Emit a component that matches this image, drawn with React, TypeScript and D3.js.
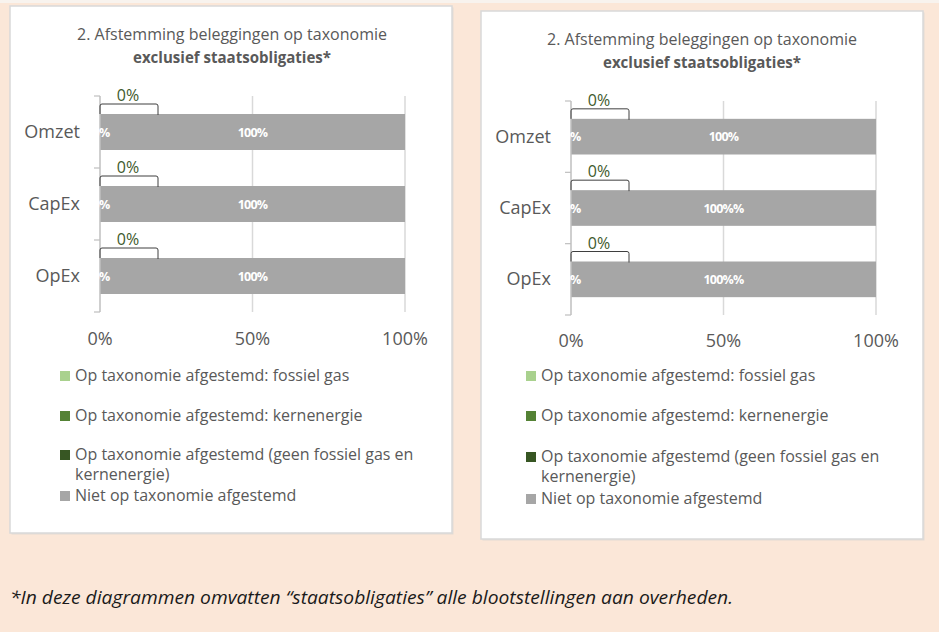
import React from "react";
import * as d3 from "d3";

const W = 939;
const H = 632;

const categories = ["Omzet", "CapEx", "OpEx"];
const seriesNames = [
  "Op taxonomie afgestemd: fossiel gas",
  "Op taxonomie afgestemd: kernenergie",
  "Op taxonomie afgestemd (geen fossiel gas en kernenergie)",
  "Niet op taxonomie afgestemd",
];
const seriesColors = ["#A9D18E", "#548235", "#375623", "#A6A6A6"];
// values per category: [fossiel gas, kernenergie, geen, niet]
const leftValues = [
  [0, 0, 0, 100],
  [0, 0, 0, 100],
  [0, 0, 0, 100],
];
const rightValues = [
  [0, 0, 0, 100],
  [0, 0, 0, 100],
  [0, 0, 0, 100],
];
const leftBarLabels = ["100%", "100%", "100%"];
const rightBarLabels = ["100%", "100%%", "100%%"];
const calloutLabels = ["0%", "0%", "0%"];
const xTicks = [0, 50, 100];
const titleLine1 = "2. Afstemming beleggingen op taxonomie";
const titleLine2 = "exclusief staatsobligaties*";
const legendLines = [
  ["Op taxonomie afgestemd: fossiel gas"],
  ["Op taxonomie afgestemd: kernenergie"],
  ["Op taxonomie afgestemd (geen fossiel gas en", "kernenergie)"],
  ["Niet op taxonomie afgestemd"],
];
const footnote = "*In deze diagrammen omvatten \u201Cstaatsobligaties\u201D alle blootstellingen aan overheden.";

const FONT = "'Open Sans', Lato, sans-serif";
const TXT = "#595959";

type PanelProps = {
  box: { x: number; y: number; w: number; h: number };
  titleX: number;
  titleY: number;
  plot: { left: number; right: number; top: number; bottom: number };
  values: number[][];
  barLabels: string[];
  tickY: number;
  legend: { sx: number; tx: number; ys: number[] };
};

function Panel({ box, titleX, titleY, plot, values, barLabels, tickY, legend }: PanelProps) {
  const x = d3.scaleLinear().domain([0, 100]).range([plot.left, plot.right]);
  const y = d3.scaleBand<string>().domain(categories).range([plot.top, plot.bottom]).paddingInner(0.5).paddingOuter(0.25);
  const stacked = values.map((row) => {
    let acc = 0;
    return row.map((v) => {
      const s = acc;
      acc += v;
      return [s, acc];
    });
  });
  const step = y.step();
  const boundaries = d3.range(categories.length + 1).map((i) => plot.top + i * step);
  return (
    <g>
      <rect x={box.x + 1.5} y={box.y + 1.5} width={box.w} height={box.h} fill="#E4DCD4" />
      <rect x={box.x} y={box.y} width={box.w} height={box.h} fill="#FFFFFF" stroke="#D9D9D9" strokeWidth={1.5} />
      <text x={titleX} y={titleY} textAnchor="middle" fontFamily={FONT} fontSize={15.5} fill={TXT} textLength={310} lengthAdjust="spacingAndGlyphs">
        {titleLine1}
      </text>
      <text x={titleX} y={titleY + 23} textAnchor="middle" fontFamily={FONT} fontSize={15.5} fontWeight="bold" fill={TXT} textLength={198} lengthAdjust="spacingAndGlyphs">
        {titleLine2}
      </text>
      {xTicks.slice(1).map((t) => (
        <line key={t} x1={x(t)} x2={x(t)} y1={plot.top} y2={plot.bottom} stroke="#D9D9D9" strokeWidth={1.5} />
      ))}
      {stacked.map((row, ci) =>
        row.map(([s, e], si) =>
          e - s > 0 ? (
            <rect
              key={ci + "-" + si}
              x={x(s)}
              y={y(categories[ci])}
              width={x(e) - x(s)}
              height={y.bandwidth()}
              fill={seriesColors[si]}
            />
          ) : null
        )
      )}
      <line x1={plot.left} x2={plot.left} y1={plot.top} y2={plot.bottom} stroke="#BFBFBF" strokeWidth={1.5} />
      {boundaries.map((b, i) => (
        <line key={i} x1={plot.left - 6} x2={plot.left} y1={b} y2={b} stroke="#BFBFBF" strokeWidth={1.2} />
      ))}
      {categories.map((c, ci) => {
        const top = y(c)!;
        const cy = top + y.bandwidth() / 2;
        const bx0 = x(0);
        const bx1 = x(0) + 58;
        return (
          <g key={c}>
            <text x={plot.left - 20} y={cy + 6} textAnchor="end" fontFamily={FONT} fontSize={18} fill={TXT}>
              {c}
            </text>
            <path
              d={`M${bx0},${top} L${bx0},${top - 8} Q${bx0},${top - 10} ${bx0 + 2},${top - 10} L${bx1 - 2},${top - 10} Q${bx1},${top - 10} ${bx1},${top - 8} L${bx1},${top + 1}`}
              fill="none"
              stroke="#3F3F3F"
              strokeWidth={1}
            />
            <text x={bx0 + 28} y={top - 13} textAnchor="middle" fontFamily={FONT} fontSize={16} fill="#3E5A2C">
              {calloutLabels[ci]}
            </text>
            <text x={x(0) + 1} y={cy + 4.5} textAnchor="middle" fontFamily={FONT} fontSize={12.5} fontWeight="bold" fill="#FFFFFF" letterSpacing={-0.8}>
              0%
            </text>
            <text x={x(50)} y={cy + 4.5} textAnchor="middle" fontFamily={FONT} fontSize={12.5} fontWeight="bold" fill="#FFFFFF" letterSpacing={-0.8}>
              {barLabels[ci]}
            </text>
          </g>
        );
      })}
      {xTicks.map((t) => (
        <text key={t} x={x(t)} y={tickY} textAnchor="middle" fontFamily={FONT} fontSize={18} fill={TXT}>
          {t + "%"}
        </text>
      ))}
      {legendLines.map((lines, i) => (
        <g key={i}>
          <rect x={legend.sx} y={legend.ys[i] - 5} width={10} height={10} fill={seriesColors[i]} />
          {lines.map((ln, j) => (
            <text key={j} x={legend.tx} y={legend.ys[i] + 5 + j * 20} fontFamily={FONT} fontSize={16} fill={TXT}>
              {ln}
            </text>
          ))}
        </g>
      ))}
    </g>
  );
}

export default function App() {
  return (
    <svg width={W} height={H} style={{ position: "absolute", left: 0, top: 0 }}>
      <rect x={0} y={0} width={W} height={H} fill="#FBE7D8" />
      <rect x={0} y={0} width={W} height={3} fill="#F8F3EE" />
      <Panel
        box={{ x: 10, y: 6, w: 442, h: 527 }}
        titleX={232}
        titleY={40}
        plot={{ left: 100, right: 405, top: 96, bottom: 312 }}
        values={leftValues}
        barLabels={leftBarLabels}
        tickY={345}
        legend={{ sx: 60, tx: 75, ys: [376, 416, 455, 496] }}
      />
      <Panel
        box={{ x: 481, y: 11, w: 442, h: 528 }}
        titleX={702}
        titleY={45}
        plot={{ left: 571, right: 876, top: 101, bottom: 315 }}
        values={rightValues}
        barLabels={rightBarLabels}
        tickY={347}
        legend={{ sx: 526, tx: 541, ys: [376, 416, 457, 499] }}
      />
      <text x={10} y={604} fontFamily={FONT} fontStyle="italic" fontSize={18} fill="#1A1A1A" textLength={723} lengthAdjust="spacingAndGlyphs">
        {footnote}
      </text>
    </svg>
  );
}
